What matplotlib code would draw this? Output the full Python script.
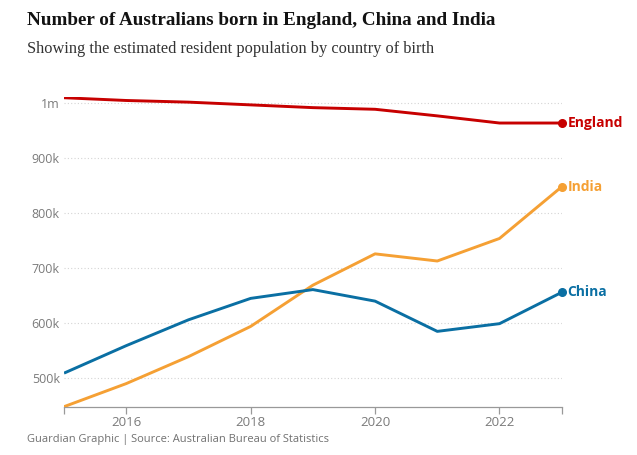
import matplotlib.pyplot as plt
from matplotlib.ticker import FixedLocator

years = [2015, 2016, 2017, 2018, 2019, 2020, 2021, 2022, 2023]
england = [1009, 1004, 1001, 996, 991, 988, 976, 963, 963]
india = [447, 489, 538, 593, 668, 725, 712, 753, 847]
china = [508, 558, 605, 644, 660, 639, 584, 598, 655]

series = [("England", england, "#c70000"),
          ("India", india, "#f5a034"),
          ("China", china, "#0a6fa3")]

fig = plt.figure(figsize=(6.37, 4.55), dpi=100)
ax = fig.add_axes([0.1005, 0.1062, 0.7813, 0.6802])

for name, vals, col in series:
    ax.plot(years, vals, color=col, lw=2.1, solid_capstyle="butt", zorder=3)
    ax.plot(years[-1], vals[-1], "o", color=col, ms=5.5, zorder=4, clip_on=False)
    ax.text(years[-1] + 0.09, vals[-1], name, color=col, fontsize=10,
            fontweight="bold", va="center", ha="left", family="Open Sans")

ax.set_xlim(2015, 2023)
ax.set_ylim(447, 1010)
yticks = [500, 600, 700, 800, 900, 1000]
ylabels = ["500k", "600k", "700k", "800k", "900k", "1m"]
ax.set_yticks(yticks)
ax.set_yticklabels(ylabels)
ax.yaxis.grid(True, color="#d4d4d4", ls=(0, (1, 2)), lw=0.8)
ax.tick_params(axis="y", length=0, pad=3, labelsize=9, labelcolor="#7a7a7a")

ax.xaxis.set_major_locator(FixedLocator([2016, 2018, 2020, 2022]))
ax.xaxis.set_minor_locator(FixedLocator([2015, 2023]))
ax.set_xticklabels(["2016", "2018", "2020", "2022"])
ax.tick_params(axis="x", which="both", length=5, width=0.9, color="#999999",
               labelsize=9.5, labelcolor="#7a7a7a", pad=2)

for s in ["top", "right", "left"]:
    ax.spines[s].set_visible(False)
ax.spines["bottom"].set_color("#999999")
ax.spines["bottom"].set_linewidth(0.9)

for lab in ax.get_xticklabels() + ax.get_yticklabels():
    lab.set_family("Open Sans")

fig.text(0.042, 0.955, "Number of Australians born in England, China and India",
         fontsize=13.8, fontweight="bold", family="Liberation Serif",
         color="#121212", va="center")
fig.text(0.042, 0.892, "Showing the estimated resident population by country of birth",
         fontsize=11.8, family="Liberation Serif", color="#333333", va="center")
fig.text(0.042, 0.033, "Guardian Graphic | Source: Australian Bureau of Statistics",
         fontsize=8, family="Open Sans", color="#707070", va="center")

fig.savefig("out.png", dpi=100, facecolor="white")
